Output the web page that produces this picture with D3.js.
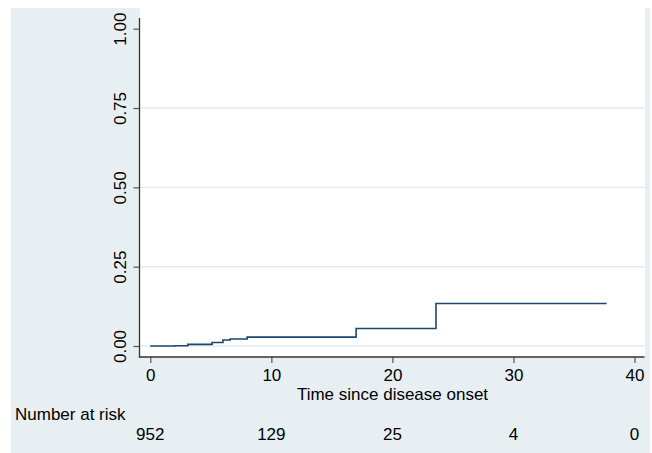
<!DOCTYPE html>
<html>
<head>
<meta charset="utf-8">
<script src="https://cdn.jsdelivr.net/npm/d3@7"></script>
<style>
  html, body { margin: 0; padding: 0; background: #ffffff; }
  svg { display: block; }
  text { font-family: "Liberation Sans", Arial, Helvetica, sans-serif; fill: #000; }
</style>
</head>
<body>
<svg id="chart" width="652" height="453"></svg>
<script>
// ---- data ----
const stepTimes  = [0, 2.05, 3.1, 5.1, 6.0, 6.6, 8.0, 17.0, 23.6, 37.7];
const stepValues = [0, 0.001, 0.005, 0.011, 0.019, 0.022, 0.028, 0.055, 0.134, 0.134];
const xTicks = [0, 10, 20, 30, 40];
const yTicks = [0, 0.25, 0.5, 0.75, 1];
const yTickLabels = ["0.00", "0.25", "0.50", "0.75", "1.00"];
const riskTimes  = [0, 10, 20, 30, 40];
const riskCounts = [952, 129, 25, 4, 0];
const xTitle = "Time since disease onset";
const riskTitle = "Number at risk";

const FS = "17px";
const svg = d3.select("#chart");
const W = 652, H = 453;

// outer graph region
svg.append("rect").attr("x", 11).attr("y", 8).attr("width", 639).attr("height", H - 8)
  .attr("fill", "#e8eff2");
// plot region
const plot = { left: 140, right: 645, top: 8, bottom: 357 };
svg.append("rect").attr("x", plot.left).attr("y", plot.top)
  .attr("width", plot.right - plot.left).attr("height", plot.bottom - plot.top)
  .attr("fill", "#ffffff");

const x = d3.scaleLinear().domain([0, 40]).range([150.3, 634.5]);
const y = d3.scaleLinear().domain([0, 1]).range([346, 28.7]);

// gridlines
svg.append("g").selectAll("line").data(yTicks.filter(d => d < 1)).join("line")
  .attr("x1", plot.left).attr("x2", plot.right)
  .attr("y1", d => y(d)).attr("y2", d => y(d))
  .attr("stroke", "#e3ebee").attr("stroke-width", 1.4);

// y axis
const yAxis = svg.append("g").attr("transform", "translate(139.5,0)")
  .call(d3.axisLeft(y).tickValues(yTicks).tickSize(6)
    .tickFormat((d, i) => yTickLabels[i]));
yAxis.select(".domain").remove();
yAxis.selectAll(".tick line").attr("stroke", "#555").attr("stroke-width", 1.2);
yAxis.selectAll(".tick text")
  .attr("x", null).attr("dy", null)
  .attr("transform", "translate(-13.5,0) rotate(-90)")
  .attr("text-anchor", "middle")
  .style("font-size", FS).style("font-family", "Liberation Sans, Arial, sans-serif")
  .attr("fill", "#000");
svg.append("line").attr("x1", 139.5).attr("x2", 139.5).attr("y1", 18).attr("y2", 357.5)
  .attr("stroke", "#333").attr("stroke-width", 1.3);

// x axis
const xAxis = svg.append("g").attr("transform", "translate(0,357)")
  .call(d3.axisBottom(x).tickValues(xTicks).tickSize(6).tickFormat(d3.format("d")));
xAxis.select(".domain").remove();
xAxis.selectAll(".tick line").attr("stroke", "#555").attr("stroke-width", 1.2);
xAxis.selectAll(".tick text")
  .attr("y", 24).attr("dy", null)
  .style("font-size", FS).style("font-family", "Liberation Sans, Arial, sans-serif")
  .attr("fill", "#000");
svg.append("line").attr("x1", 139).attr("x2", 644.5).attr("y1", 357).attr("y2", 357)
  .attr("stroke", "#333").attr("stroke-width", 1.3);

// x title
svg.append("text").attr("x", (plot.left + plot.right) / 2).attr("y", 399.5)
  .attr("text-anchor", "middle").style("font-size", FS).text(xTitle);

// step curve
const pts = stepTimes.map((t, i) => [t, stepValues[i]]);
const line = d3.line().x(d => x(d[0])).y(d => y(d[1])).curve(d3.curveStepAfter);
svg.append("path").datum(pts).attr("d", line)
  .attr("fill", "none").attr("stroke", "#1a476f").attr("stroke-width", 1.6);

// number at risk
svg.append("text").attr("x", 15).attr("y", 419.5).style("font-size", FS).text(riskTitle);
svg.append("g").selectAll("text").data(riskTimes).join("text")
  .attr("x", d => x(d)).attr("y", 439.5).attr("text-anchor", "middle")
  .style("font-size", FS).text((d, i) => riskCounts[i]);
</script>
</body>
</html>
